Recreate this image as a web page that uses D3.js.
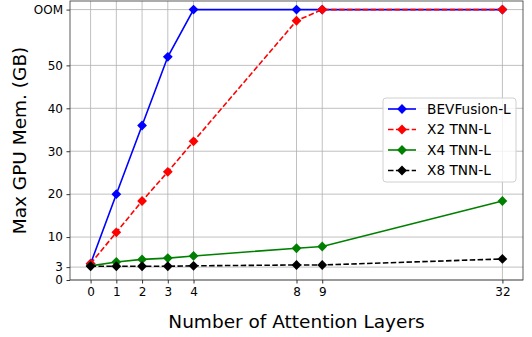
<!DOCTYPE html>
<meta charset="utf-8">
<script src="https://d3js.org/d3.v7.min.js"></script>
<style>
  body { margin: 0; background: #fff; }
  text { font-family: "DejaVu Sans", sans-serif; }
</style>
<div id="chart"></div>
<script>

// data
var layers = [0, 1, 2, 3, 4, 8, 9, 32];
var OOM = 63;
var bevfusion = [3.8, 20, 36, 52, OOM, OOM, OOM, OOM];
var x2tnn = [3.8, 11.1, 18.4, 25.2, 32.3, 60.4, OOM, OOM];
var x4tnn = [3.3, 4.2, 4.8, 5.1, 5.6, 7.4, 7.8, 18.4];
var x8tnn = [3.2, 3.2, 3.2, 3.2, 3.3, 3.5, 3.5, 4.9];
var seriesNames = ["BEVFusion-L", "X2 TNN-L", "X4 TNN-L", "X8 TNN-L"];
var yTicks = [0, 3, 10, 20, 30, 40, 50, OOM];

var series = [
  {name: seriesNames[0], values: bevfusion, color: "#0000ff", dash: null},
  {name: seriesNames[1], values: x2tnn, color: "#ff0000", dash: "5.5,2.4"},
  {name: seriesNames[2], values: x4tnn, color: "#008000", dash: null},
  {name: seriesNames[3], values: x8tnn, color: "#000000", dash: "5.5,2.4"}
];

var W = 532, H = 337;
var margin = {top: 1, right: 9, bottom: 57, left: 70};
var width = W - margin.left - margin.right,
    height = H - margin.top - margin.bottom;

var svg = d3.select("#chart").append("svg")
    .attr("width", W).attr("height", H);
var g = svg.append("g")
    .attr("transform", "translate(" + margin.left + "," + margin.top + ")");

// x axis is evenly spaced in "slot" units, 32 sits at slot 16
var slot = d3.scaleLinear().domain([-0.8, 16.8]).range([0, width]);
var x = d3.scaleLinear().domain([0, 9, 32]).range([slot(0), slot(9), slot(16)]);
var y = d3.scaleLinear().domain([0, 65]).range([height, 0]);

// grid
g.append("g").selectAll("line").data(layers).join("line")
    .attr("x1", d => x(d)).attr("x2", d => x(d))
    .attr("y1", 0).attr("y2", height)
    .attr("stroke", "#b0b0b0").attr("stroke-width", 0.8);
g.append("g").selectAll("line").data(yTicks).join("line")
    .attr("x1", 0).attr("x2", width)
    .attr("y1", d => y(d)).attr("y2", d => y(d))
    .attr("stroke", "#b0b0b0").attr("stroke-width", 0.8);

// axes
var xAxis = g.append("g")
    .attr("transform", "translate(0," + height + ")")
    .call(d3.axisBottom(x).tickValues(layers).tickSize(3.5).tickPadding(3.5));
var yAxis = g.append("g")
    .call(d3.axisLeft(y).tickValues(yTicks).tickSize(3.5).tickPadding(3.5)
      .tickFormat(d => d === OOM ? "OOM" : d));
[xAxis, yAxis].forEach(function(a) {
  a.select(".domain").remove();
  a.selectAll("text").style("font-size", "12px").attr("fill", "#000");
  a.selectAll("line").attr("stroke", "#000").attr("stroke-width", 0.8);
});

// lines
var line = d3.line()
    .x((d, i) => x(layers[i]))
    .y(d => y(d));

var diamond = d3.symbol().type(d3.symbolSquare).size(48);

series.forEach(function(s) {
  var sg = g.append("g");
  sg.append("path")
    .datum(s.values)
    .attr("fill", "none")
    .attr("stroke", s.color)
    .attr("stroke-width", 1.6)
    .attr("stroke-dasharray", s.dash)
    .attr("d", line);
  sg.selectAll("path.m").data(s.values).join("path")
    .attr("class", "m")
    .attr("d", diamond)
    .attr("fill", s.color)
    .attr("transform", (d, i) => "translate(" + x(layers[i]) + "," + y(d) + ") rotate(45)");
});

// frame
g.append("rect")
    .attr("width", width).attr("height", height)
    .attr("fill", "none").attr("stroke", "#333").attr("stroke-width", 0.8);

// axis labels
svg.append("text")
    .attr("x", margin.left + width / 2)
    .attr("y", 328)
    .attr("text-anchor", "middle")
    .style("font-size", "18.5px")
    .text("Number of Attention Layers");
svg.append("text")
    .attr("transform", "translate(26," + (margin.top + height / 2) + ") rotate(-90)")
    .attr("text-anchor", "middle")
    .style("font-size", "18.5px")
    .text("Max GPU Mem. (GB)");

// legend
var lg = svg.append("g").attr("transform", "translate(383,98)");
lg.append("rect")
    .attr("width", 133).attr("height", 84).attr("rx", 3)
    .attr("fill", "#fff").attr("fill-opacity", 0.8)
    .attr("stroke", "#d0d0d0").attr("stroke-width", 1);
series.forEach(function(s, i) {
  var row = lg.append("g").attr("transform", "translate(5," + (11 + i * 20.5) + ")");
  row.append("line")
    .attr("x1", 0).attr("x2", 28)
    .attr("stroke", s.color).attr("stroke-width", 1.6)
    .attr("stroke-dasharray", s.dash);
  row.append("path")
    .attr("d", diamond)
    .attr("fill", s.color)
    .attr("transform", "translate(14,0) rotate(45)");
  row.append("text")
    .attr("x", 39).attr("y", 0).attr("dy", "0.35em")
    .style("font-size", "13.7px")
    .text(s.name);
});

</script>
